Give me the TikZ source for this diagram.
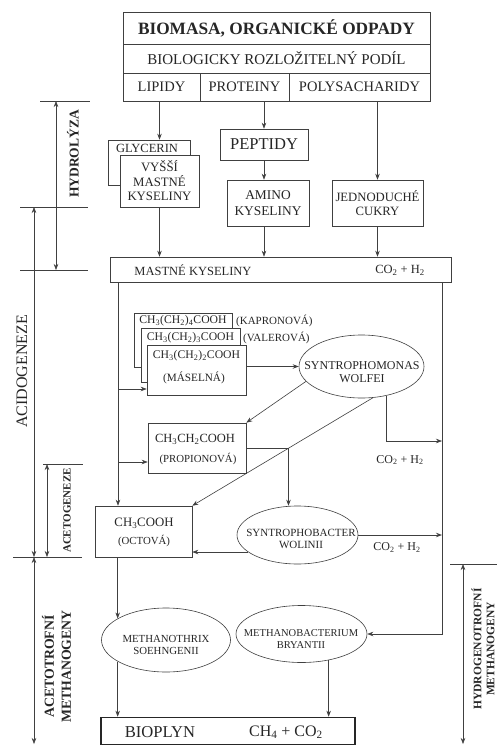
\documentclass[tikz,border=0pt]{standalone}
\usepackage{fontspec}
\setmainfont{Liberation Serif}
\usetikzlibrary{shapes.geometric,arrows.meta,calc}
\newcommand{\fs}[2]{\fontsize{#1}{#2}\selectfont}
\newcommand{\cotwo}{CO\textsubscript{2} + H\textsubscript{2}}
\begin{document}
\begin{tikzpicture}[x=1pt,y=-1pt,
  ln/.style={draw=black!75, line width=0.6pt},
  arr/.style={ln, -{Stealth[length=6pt,width=4.5pt]}},
  darr/.style={ln, {Stealth[length=6pt,width=4.5pt]}-{Stealth[length=6pt,width=4.5pt]}},
  bx/.style={draw=black!75, line width=0.6pt, fill=white, inner sep=0pt, align=center, text=black!85},
  el/.style={ellipse, draw=black!75, line width=0.6pt, fill=white, inner sep=0pt},
  tx/.style={inner sep=0pt, align=center, text=black!85}]
\useasboundingbox (0,0) rectangle (497,745);
\fill[white] (0,0) rectangle (497,745);

% ---------- top table ----------
\node[bx, minimum width=307, minimum height=32, font=\fs{17.3}{20}\bfseries] (title) at (276.5,28) {BIOMASA, ORGANICKÉ ODPADY};
\node[bx, minimum width=307, minimum height=29, font=\fs{15}{18}] (bio) at (276.5,58.5) {BIOLOGICKY ROZLOŽITELNÝ PODÍL};
\node[bx, minimum width=77, minimum height=28, font=\fs{14.5}{17}] (lipidy) at (161.5,87) {LIPIDY};
\node[bx, minimum width=89, minimum height=28, font=\fs{14.5}{17}] (proteiny) at (244.5,87) {PROTEINY};
\node[bx, minimum width=141, minimum height=28, font=\fs{14.5}{17}] (polysach) at (359.5,87) {POLYSACHARIDY};

% ---------- hydrolysis products ----------
\node[bx, minimum width=82, minimum height=45] (glyc) at (149,162.5) {};
\node[tx, font=\fs{12.5}{14}] (glyct) at (147,148.5) {GLYCERIN};
\node[bx, minimum width=79, minimum height=52, font=\fs{12.8}{14.5}] (vm) at (159.5,181) {VYŠŠÍ\\MASTNÉ\\KYSELINY};
\node[bx, minimum width=88, minimum height=31, font=\fs{16.5}{18}] (pept) at (264,144.5) {PEPTIDY};
\node[bx, minimum width=82, minimum height=46, font=\fs{13.4}{16}] (amino) at (268,203) {AMINO\\KYSELINY};
\node[bx, minimum width=91, minimum height=46, font=\fs{12.7}{13.5}] (cukry) at (377.5,203) {JEDNODUCHÉ\\CUKRY};

% ---------- mastne kyseliny ----------
\node[bx, minimum width=341, minimum height=25] (mk) at (280.5,269.5) {};
\node[tx, font=\fs{12.5}{14}] (mkt) at (193,270) {MASTNÉ KYSELINY};
\node[tx, font=\fs{12.5}{14}] (mkco) at (400,270) {\cotwo};

\coordinate (lx) at (118,0);
\coordinate (rx) at (442,0);

% ---------- stacked acids ----------
\node[bx, minimum width=98, minimum height=54] (kap) at (183,340) {};
\node[tx, font=\fs{11.7}{13}] (kapt) at (183,320.5) {CH\textsubscript{3}(CH\textsubscript{2})\textsubscript{4}COOH};
\node[tx, font=\fs{11}{13}, anchor=west] (kapn) at (236,320.5) {(KAPRONOVÁ)};
\node[bx, minimum width=99, minimum height=54] (val) at (190.5,355) {};
\node[tx, font=\fs{11.7}{13}] (valt) at (190.5,337.5) {CH\textsubscript{3}(CH\textsubscript{2})\textsubscript{3}COOH};
\node[tx, font=\fs{11}{13}, anchor=west] (valn) at (243,337.5) {(VALEROVÁ)};
\node[bx, minimum width=99, minimum height=50] (mas) at (196.5,370) {};
\node[tx, font=\fs{11.7}{13}] (mast) at (196.5,356) {CH\textsubscript{3}(CH\textsubscript{2})\textsubscript{2}COOH};
\node[tx, font=\fs{11.2}{13}] (masn) at (194,377.5) {(MÁSELNÁ)};

\node[bx, minimum width=98, minimum height=50] (prop) at (197,448) {};
\node[tx, font=\fs{12.5}{14}] (propt) at (195,439) {CH\textsubscript{3}CH\textsubscript{2}COOH};
\node[tx, font=\fs{10.8}{13}] (propn) at (198,459) {(PROPIONOVÁ)};

\node[bx, minimum width=97, minimum height=51] (oct) at (143.5,531.5) {};
\node[tx, font=\fs{12.8}{14}] (octt) at (144,523) {CH\textsubscript{3}COOH};
\node[tx, font=\fs{10.8}{13}] (octn) at (144,541) {(OCTOVÁ)};

% ---------- bacteria ----------
\node[el, minimum width=125, minimum height=63] (wolf) at (361.5,366.5) {};
\node[tx, font=\fs{12}{13}] (wolft) at (362,372) {SYNTROPHOMONAS\\WOLFEI};
\node[el, minimum width=121, minimum height=58] (sbac) at (297.5,535) {};
\node[tx, font=\fs{11}{12.5}] (sbact) at (301,539) {SYNTROPHOBACTER\\WOLINII};
\node[el, minimum width=129, minimum height=64] (thrix) at (166,640) {};
\node[tx, font=\fs{10.8}{12.5}] (thrixt) at (166,645) {METHANOTHRIX\\SOEHNGENII};
\node[el, minimum width=131, minimum height=57] (bact) at (301.5,634) {};
\node[tx, font=\fs{10.5}{12.5}] (bactt) at (301,639) {METHANOBACTERIUM\\BRYANTII};

% ---------- bioplyn ----------
\node[draw=black!85, line width=1.6pt, fill=white, inner sep=0pt, minimum width=254, minimum height=27] (bio2) at (228,731) {};
\node[tx, font=\fs{16.6}{18}] (biot) at (160,732) {BIOPLYN};
\node[tx, font=\fs{16}{18}] (biogas) at (286,732) {CH\textsubscript{4} + CO\textsubscript{2}};

% ---------- connectors ----------
\draw[arr] (vm |- lipidy.south) -- (vm |- glyc.north);
\draw[arr] (pept |- proteiny.south) -- (pept.north);
\draw[arr] (cukry |- polysach.south) -- (cukry.north);
\draw[arr] (pept.south) -- (pept.south |- amino.north);
\draw[arr] (vm.south) -- (vm.south |- mk.north);
\draw[arr] (pept |- amino.south) -- (pept |- mk.north);
\draw[arr] (cukry.south) -- (cukry.south |- mk.north);

\coordinate (bm) at (118,389);
\coordinate (bp) at (118,462);
\draw[arr] (lx |- mk.south) -- (lx |- oct.north);
\draw[arr] (bm) -- (bm -| mas.west);
\draw[arr] (bp) -- (bp -| prop.west);
\draw[arr] (rx |- mk.south) |- (bact.east);

\draw[arr] (mas.east |- wolf.west) -- (wolf.west);
\draw[arr] (wolf.195) -- (prop.north east);
\draw[arr] (wolf.290) -- (oct.north east);
\coordinate (co1) at (442,441);
\draw[arr] (wolf.310) |- (co1);
\node[tx, font=\fs{12}{14}] (co1t) at (400,460) {\cotwo};

\draw[arr] (prop.east) -| ([xshift=-9pt]sbac.north);
\draw[arr] (sbac.199) -- (sbac.199 -| oct.east);
\draw[arr, line width=0.9pt] (sbac.east) -- (sbac.east -| rx);
\node[tx, font=\fs{12}{14}] (co2t) at (397,547.5) {\cotwo};

\draw[arr] (thrix.156 |- oct.south) -- (thrix.156);
\draw[arr] (thrix.204) -- (thrix.204 |- bio2.north);
\draw[arr] (bact.316) -- (bact.316 |- bio2.north);

% ---------- phase scale ----------
\coordinate (t1a) at (40,101);  \coordinate (t1b) at (90,101);
\coordinate (t2a) at (20,207);  \coordinate (t2b) at (88,207);
\coordinate (t3a) at (20,270);  \coordinate (t3b) at (88,270);
\coordinate (t4a) at (43,464);  \coordinate (t4b) at (83,464);
\coordinate (t5a) at (13,557);  \coordinate (t5b) at (82,557);
\coordinate (t6a) at (450,564); \coordinate (t6b) at (497,564);
\draw[ln] (t1a) -- (t1b);
\draw[ln] (t2a) -- (t2b);
\draw[ln] (t3a) -- (t3b);
\draw[ln] (t4a) -- (t4b);
\draw[ln] (t5a) -- (t5b);
\draw[ln] (t6a) -- (t6b);

\draw[darr] (56,101) -- (56,270);
\draw[darr] (34,207) -- (34,557);
\draw[darr] (47,464) -- (47,557);
\draw[darr] (34,557) -- (34,744);
\draw[darr] (463,564) -- (463,744);

\node[tx, rotate=90, font=\fs{13.5}{16}\bfseries] (lh) at (73,154) {HYDROLÝZA};
\node[tx, rotate=90, font=\fs{16}{18}] (lac) at (22,371.5) {ACIDOGENEZE};
\node[tx, rotate=90, font=\fs{11}{13}\bfseries] (lag) at (67,510.5) {ACETOGENEZE};
\node[tx, rotate=90, font=\fs{13.8}{17}\bfseries] (lat) at (56.5,666.5) {ACETOTROFNÍ\\METHANOGENY};
\node[tx, rotate=90, font=\fs{11.5}{13}\bfseries] (lhy) at (483,649) {HYDROGENOTROFNÍ\\METHANOGENY};
\end{tikzpicture}
\end{document}
